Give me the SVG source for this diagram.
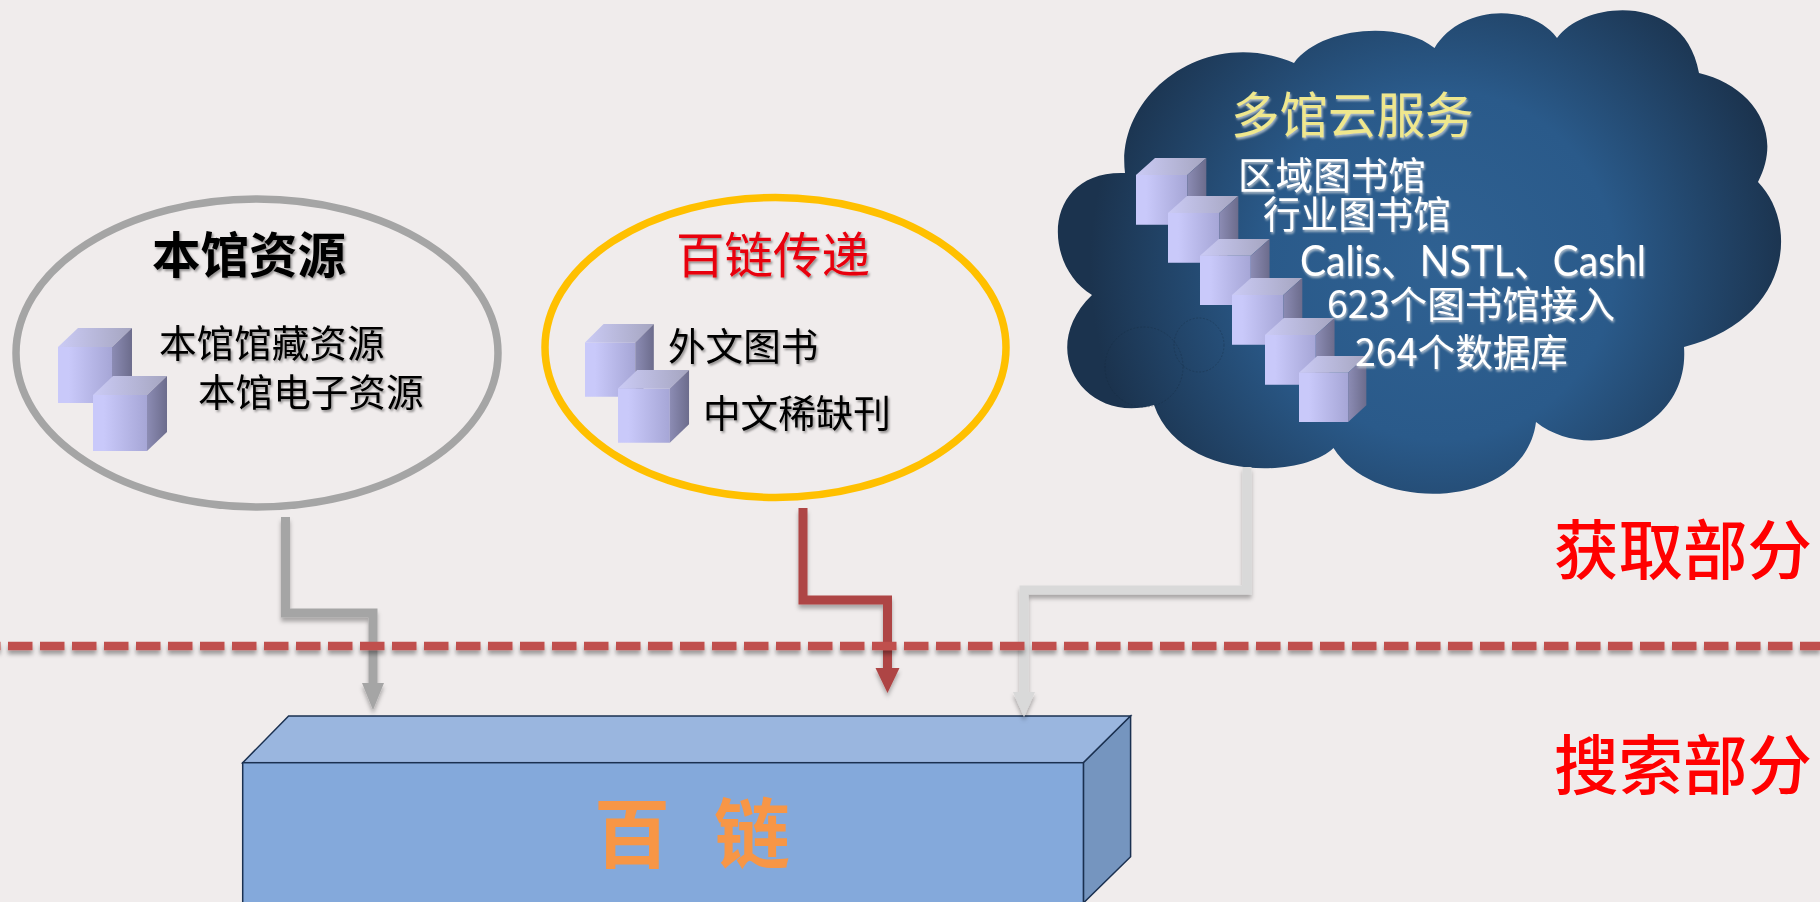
<svg xmlns="http://www.w3.org/2000/svg" width="1820" height="902" viewBox="0 0 1820 902">
<style>
text{font-family:"Noto Sans CJK SC","Liberation Sans",sans-serif}
.t48{font-size:48.500px}
.t37{font-size:37.600px}
.dark{fill:#000;filter:url(#ts)}
.lite{fill:#fff;filter:url(#tg)}
.side{font-size:64.500px;fill:#f00;font-weight:500}
.conn{fill:none;stroke-width:9;stroke-linejoin:miter;filter:url(#ds)}
</style>
<defs>
<filter id="ds" x="-30%" y="-30%" width="160%" height="160%"><feDropShadow dx="0" dy="4" stdDeviation="2" flood-color="#000" flood-opacity=".3"/></filter>
<filter id="dl" filterUnits="userSpaceOnUse" x="-40" y="630" width="1900" height="40"><feDropShadow dx="0" dy="4" stdDeviation="2" flood-color="#000" flood-opacity=".35"/></filter>
<filter id="ts" x="-5%" y="-10%" width="110%" height="125%"><feDropShadow dx="1.500" dy="2" stdDeviation="1.200" flood-color="#000" flood-opacity=".4"/></filter>
<filter id="tg" x="-5%" y="-10%" width="110%" height="125%"><feDropShadow dx="1" dy="2" stdDeviation="1" flood-color="#c8d0d8" flood-opacity=".8"/></filter>
<radialGradient id="cg" gradientUnits="userSpaceOnUse" cx="1440" cy="265" r="350"><stop offset="0" stop-color="#2f6192"/><stop offset=".5" stop-color="#2a5a8a"/><stop offset="1" stop-color="#1b334e"/></radialGradient>
<linearGradient id="cf"><stop offset=".2" stop-color="#c9c9fa"/><stop offset="1" stop-color="#a6a6d6"/></linearGradient>
<linearGradient id="ct"><stop offset="0" stop-color="#cbcbf5"/><stop offset="1" stop-color="#a5a5c0"/></linearGradient>
<linearGradient id="cs"><stop offset="0" stop-color="#8c8cb4"/><stop offset="1" stop-color="#6c6c8c"/></linearGradient>
<g id="cube">
<rect x="0" y="19" width="54" height="56" fill="url(#cf)"/>
<polygon points="0,19 20,0 74,0 54,19" fill="url(#ct)"/>
<polygon points="54,19 74,0 74,56 54,75" fill="url(#cs)"/>
</g>
<marker id="ag" markerUnits="userSpaceOnUse" markerWidth="24" markerHeight="28" refX="0" refY="12" orient="auto" overflow="visible"><path d="M0,1 L27,12 L0,23Z" fill="#a5a5a5"/></marker>
<marker id="ar" markerUnits="userSpaceOnUse" markerWidth="24" markerHeight="28" refX="0" refY="12" orient="auto" overflow="visible"><path d="M0,0 L25,12 L0,24Z" fill="#ae4444"/></marker>
<marker id="al" markerUnits="userSpaceOnUse" markerWidth="24" markerHeight="28" refX="0" refY="12" orient="auto" overflow="visible"><path d="M0,1 L25,12 L0,23Z" fill="#d9d9d9"/></marker>
</defs>
<rect width="1820" height="902" fill="#f0ecec"/>

<g id="node-baidu-chain">
<polygon points="242.700,762.700 288.600,716 1130.600,716 1083.400,762.700" fill="#9ab6df" stroke="#1a3050" stroke-width="1.500"/>
<polygon points="1083.400,762.700 1130.600,716 1130.600,856.700 1083.400,903" fill="#7595bf" stroke="#1a3050" stroke-width="1.500"/>
<rect x="242.700" y="762.700" width="840.700" height="142" fill="#84a9db" stroke="#1a3050" stroke-width="1.500"/>
<text x="594 714" y="862" font-size="76" font-weight="700" fill="#f79646">百链</text>
</g>

<g id="node-local">
<ellipse cx="257" cy="353" rx="241" ry="154" fill="none" stroke="#a5a5a5" stroke-width="7.500"/>
<use href="#cube" transform="translate(58,328)"/>
<use href="#cube" transform="translate(93,376)"/>
<text x="152" y="273" class="t48 dark" font-weight="700">本馆资源</text>
<text x="159" y="357" class="t37 dark">本馆馆藏资源</text>
<text x="198" y="406" class="t37 dark">本馆电子资源</text>
</g>

<g id="node-delivery">
<ellipse cx="775.500" cy="347.500" rx="230.500" ry="150" fill="none" stroke="#ffc000" stroke-width="7.500"/>
<use href="#cube" transform="translate(585,324) scale(.93,.97)"/>
<use href="#cube" transform="translate(618,370) scale(.96,.97)"/>
<text x="676" y="273" class="t48" fill="#e8000b" style="filter:url(#ts)">百链传递</text>
<text x="668" y="360" class="t37 dark">外文图书</text>
<text x="703" y="427" class="t37 dark">中文稀缺刊</text>
</g>

<g id="node-cloud">
<path d="M1294,63 C1320,27 1400,20 1434.500,48 C1460,5 1530,2 1557,38 C1585,0 1685,-8 1699,73 C1750,85 1785,130 1758,182 C1800,225 1790,320 1684,347 C1690,430 1590,465 1536,422 C1525,510 1375,515 1333.500,448 C1300,480 1180,480 1154,405 C1085,425 1035,350 1092,295 C1042,265 1042,170 1125,173 C1115,95 1205,25 1294,63Z" fill="url(#cg)"/>
<ellipse cx="1144" cy="367" rx="39" ry="40" fill="none" stroke="#16283c" stroke-width=".8" stroke-dasharray="2 1.500" opacity=".4"/>
<ellipse cx="1199" cy="345" rx="25" ry="27" fill="none" stroke="#16283c" stroke-width=".8" stroke-dasharray="2 1.500" opacity=".4"/>
<use href="#cube" transform="translate(1136,158) scale(.95,.89)"/>
<use href="#cube" transform="translate(1168,196) scale(.95,.89)"/>
<use href="#cube" transform="translate(1200,239) scale(.94,.88)"/>
<use href="#cube" transform="translate(1232,278) scale(.95,.89)"/>
<use href="#cube" transform="translate(1265,318) scale(.94,.89)"/>
<use href="#cube" transform="translate(1299,356) scale(.91,.88)"/>
<text x="1231" y="133" class="t48" fill="#efe78d" style="filter:url(#tg)">多馆云服务</text>
<text x="1238" y="189" class="t37 lite">区域图书馆</text>
<text x="1263" y="228" class="t37 lite">行业图书馆</text>
<text x="1300" y="276" class="t37 lite" style="font-family:Lato,'Noto Sans CJK SC',sans-serif;font-size:42px" textLength="346" lengthAdjust="spacingAndGlyphs">Calis、NSTL、Cashl</text>
<text x="1327" y="318" class="t37 lite">623个图书馆接入</text>
<text x="1355" y="366" class="t37 lite">264个数据库</text>
</g>

<g id="connectors">
<path class="conn" d="M285.500,517 V613 H373 V683" stroke="#a5a5a5" marker-end="url(#ag)"/>
<path class="conn" d="M803,508 V600 H887.500 V668" stroke="#ae4444" marker-end="url(#ar)"/>
<path class="conn" d="M1247,467 V590 H1024 V692" stroke="#d9d9d9" marker-end="url(#al)"/>
</g>

<g id="divider">
<line x1="-24" y1="646" x2="1820" y2="646" stroke="#c0504d" stroke-width="8.500" stroke-dasharray="24.500 7.500" filter="url(#dl)"/>
</g>

<g id="label-acquire"><text x="1554" y="574" class="side">获取部分</text></g>
<g id="label-search"><text x="1554" y="789" class="side">搜索部分</text></g>
</svg>
